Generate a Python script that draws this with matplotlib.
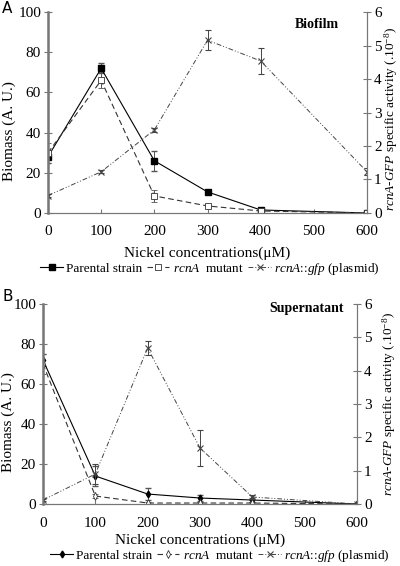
import matplotlib
matplotlib.use("Agg")
import matplotlib.pyplot as plt
import numpy as np

plt.rcParams['font.family'] = ['Liberation Serif', 'DejaVu Serif']
plt.rcParams['mathtext.fontset'] = 'custom'
plt.rcParams['mathtext.rm'] = 'Liberation Serif'
plt.rcParams['mathtext.it'] = 'Liberation Serif:italic'

conc = [0, 100, 200, 300, 400, 600]
xticks = [0, 100, 200, 300, 400, 500, 600]

# Panel A (biofilm)
a_parent = [28, 72, 26, 10.5, 1.5, 0]
a_parent_err = [3, 2.5, 5, 0.8, 0.5, 0]
a_mutant = [30, 66, 8.5, 3.5, 1, 0]
a_mutant_err = [5, 4, 3, 0.5, 0.3, 0]
a_gfp = [0.52, 1.23, 2.48, 5.16, 4.54, 1.23]
a_gfp_err = [0.05, 0.05, 0.06, 0.3, 0.38, 0.1]

# Panel B (supernatant)
b_parent = [72, 14, 5, 3, 2, 0]
b_parent_err = [3, 5, 3, 1.5, 1, 0]
b_mutant = [70, 4, 0.5, 0.5, 0.5, 0]
b_mutant_err = [5, 1, 0.3, 0.3, 0.3, 0]
b_gfp = [0.12, 0.9, 4.68, 1.68, 0.21, 0.0]
b_gfp_err = [0.03, 0.3, 0.22, 0.55, 0.05, 0]

fig = plt.figure(figsize=(4.0, 5.66), dpi=100)

grey = '#777777'
dashdot2 = (0, (5, 2, 1, 2, 1, 2))


def panel(rect, parent, perr, mutant, merr, gfp, gerr, pmark, mmark, title, xlabel,
          letter, letterpos, titlepos, legy, legx, ylab_pos, rlab_pos, xlabpad):
    ax = fig.add_axes(rect)
    ax2 = ax.twinx()
    c1 = ax.errorbar(conc, parent, yerr=perr, color='black', lw=0.8, marker=pmark,
                     ms=4 if pmark == 's' else 3.5, mfc='black', mec='black',
                     ecolor='#555555', elinewidth=0.7, capsize=2.5)
    c2 = ax.errorbar(conc, mutant, yerr=merr, color='#333333', lw=0.8, ls=(0, (5, 3)), marker=mmark,
                     ms=4, mfc='white', mec='#333333', mew=0.6,
                     ecolor='#555555', elinewidth=0.7, capsize=2.5)
    c3 = ax2.errorbar(conc, gfp, yerr=gerr, color='#444444', lw=0.7, ls=dashdot2, marker='x',
                      ms=4, mew=0.8, ecolor='#444444', elinewidth=0.7, capsize=2.5)
    for a in (ax, ax2):
        a.set_xlim(0, 600)
        for s in a.spines.values():
            s.set_color(grey)
        a.spines['top'].set_visible(False)
        a.tick_params(direction='inout', length=6, width=0.8, color=grey, labelsize=11, pad=2)
    ax.spines['left'].set_linewidth(1.8)
    ax.set_ylim(0, 100)
    ax.set_yticks([0, 20, 40, 60, 80, 100])
    ax2.set_ylim(0, 6)
    ax2.set_yticks([0, 1, 2, 3, 4, 5, 6])
    ax.set_xticks(xticks)
    ax.tick_params(axis='x', direction='in', length=3, pad=9)
    ax.set_ylabel('Biomass (A. U.)', fontsize=11)
    ax.yaxis.set_label_coords(*ylab_pos)
    ax2.set_ylabel(r'$\it{rcnA}$-$\it{GFP}$ specific activity (.10$^{-8}$)', fontsize=9.5)
    ax2.yaxis.set_label_coords(*rlab_pos)
    ax.set_xlabel(xlabel, fontsize=11, labelpad=xlabpad)
    ax.text(titlepos[0], titlepos[1], title, transform=ax.transAxes, fontsize=10,
            fontweight='bold', ha='center', va='center')
    fig.text(letterpos[0], letterpos[1], letter, fontsize=11, family='DejaVu Sans',
             ha='left', va='center')
    handles = [c1.lines[0], c2.lines[0], c3.lines[0]]
    labels = ['Parental strain', r'$\it{rcnA}$  mutant', r'$\it{rcnA}$::$\it{gfp}$ (plasmid)']
    fig.legend(handles, labels, loc='center', bbox_to_anchor=(legx, legy), ncol=3,
               frameon=False, fontsize=9.5, handlelength=1.7, handletextpad=0.25,
               columnspacing=0.35, borderaxespad=0, borderpad=0)
    return ax


panel([0.12, 0.6237, 0.7975, 0.355], a_parent, a_parent_err, a_mutant, a_mutant_err,
      a_gfp, a_gfp_err, 's', 's', 'Biofilm', 'Nickel concentrations(μM)', 'A',
      (0.005, 0.985), (0.843, 0.94), 1 - 269 / 566, 0.525, (-0.1, 0.41), (1.048, 0.47), 6)
panel([0.1075, 0.1095, 0.785, 0.3534], b_parent, b_parent_err, b_mutant, b_mutant_err,
      b_gfp, b_gfp_err, 'd', 'd', 'Supernatant', 'Nickel concentrations (μM)', 'B',
      (0.005, 0.477), (0.84, 0.975), 1 - 556 / 566, 0.55, (-0.09, 0.41), (1.075, 0.5), 3)

fig.savefig('out.png', dpi=100)
